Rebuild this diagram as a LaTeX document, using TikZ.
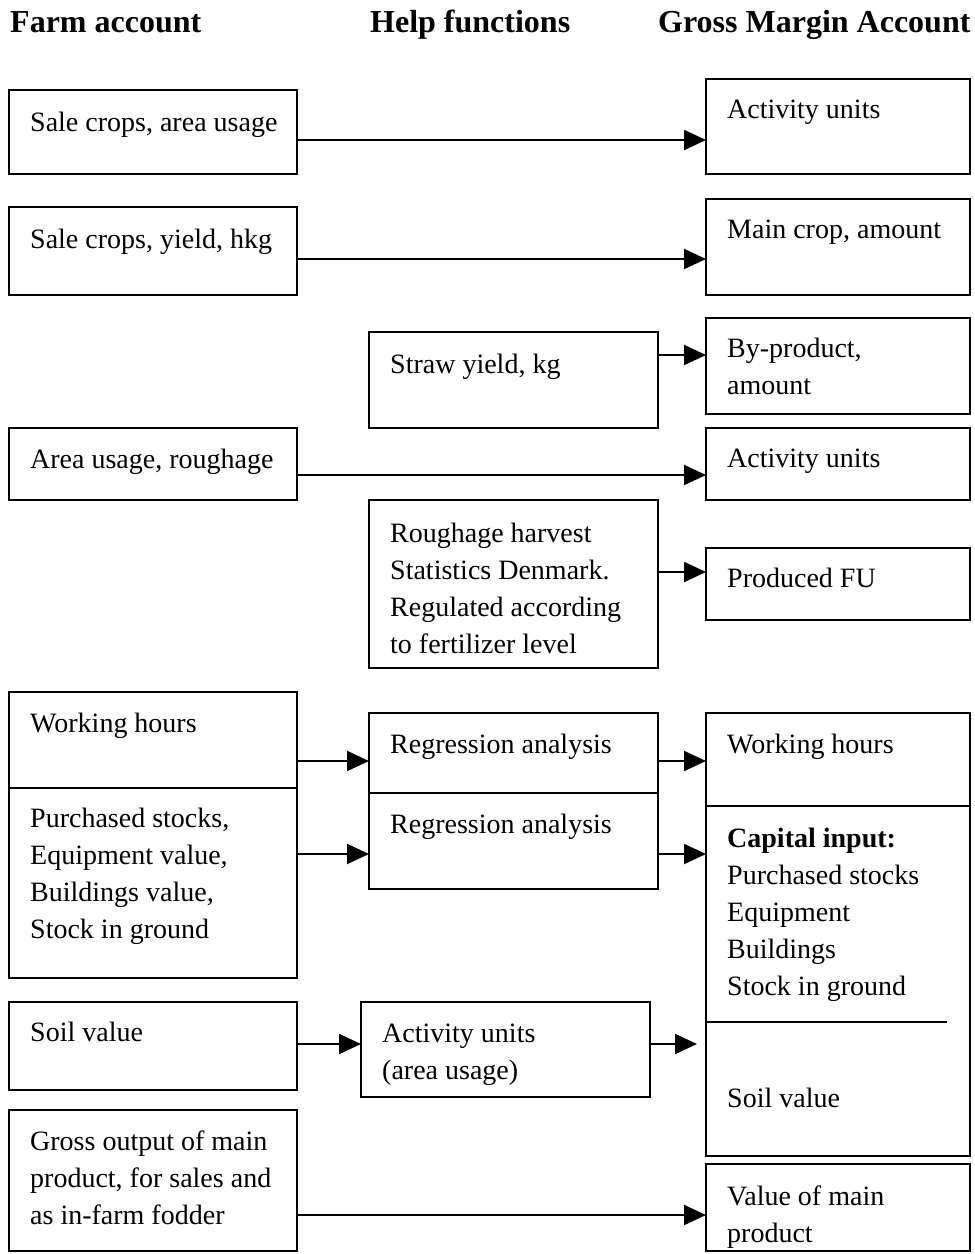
\documentclass[tikz,border=0pt]{standalone}
\usepackage{fontspec}
\setmainfont{Liberation Serif}
\usetikzlibrary{arrows.meta}

% left-aligned stack of lines whose baseline is that of the first line
\newcommand{\stk}[1]{\begin{tabular}[t]{@{}l@{}}#1\end{tabular}}

\begin{document}
\begin{tikzpicture}[x=1pt, y=-1pt,
  box/.style={draw, line width=2.2pt, rectangle, inner sep=0pt, outer sep=0pt, anchor=north west},
  txt/.style={anchor=base west, inner sep=0pt, font=\fontsize{28}{37}\selectfont},
  hdr/.style={anchor=base west, inner sep=0pt, font=\fontsize{32}{38}\selectfont\bfseries},
  arr/.style={line width=2pt, -{Triangle[length=22pt, width=20pt]}}]

\useasboundingbox (0,0) rectangle (975,1254);

% column headings
\node[hdr] (hfarm) at (10,32) {Farm account};
\node[hdr] (hhelp) at (370,32) {Help functions};
\node[hdr] (hgross) at (658,32) {Gross Margin Account};

% farm account column
\node[box, minimum width=288pt, minimum height=84pt] (a1) at (9,90) {};
\node[box, minimum width=288pt, minimum height=88pt] (a2) at (9,207) {};
\node[box, minimum width=288pt, minimum height=72pt] (a3) at (9,428) {};
\node[box, minimum width=288pt, minimum height=96pt] (a4) at (9,692) {};
\node[box, minimum width=288pt, minimum height=190pt] (a5) at (9,788) {};
\node[box, minimum width=288pt, minimum height=88pt] (a6) at (9,1002) {};
\node[box, minimum width=288pt, minimum height=141pt] (a7) at (9,1110) {};

\node[txt] (ta1) at (30,131) {Sale crops, area usage};
\node[txt] (ta2) at (30,248) {Sale crops, yield, hkg};
\node[txt] (ta3) at (30,468) {Area usage, roughage};
\node[txt] (ta4) at (30,732) {Working hours};
\node[txt] (ta5) at (30,827) {\stk{Purchased stocks,\\Equipment value,\\Buildings value,\\Stock in ground}};
\node[txt] (ta6) at (30,1041) {Soil value};
\node[txt] (ta7) at (30,1150) {\stk{Gross output of main\\product, for sales and\\as in-farm fodder}};

% help functions column
\node[box, minimum width=289pt, minimum height=96pt] (c1) at (369,332) {};
\node[box, minimum width=289pt, minimum height=168pt] (c2) at (369,500) {};
\node[box, minimum width=289pt, minimum height=80pt] (c3) at (369,713) {};
\node[box, minimum width=289pt, minimum height=96pt] (c4) at (369,793) {};
\node[box, minimum width=289pt, minimum height=95pt] (c5) at (361,1002) {};

\node[txt] (tc1) at (390,373) {Straw yield, kg};
\node[txt] (tc2) at (390,542) {\stk{Roughage harvest\\Statistics Denmark.\\Regulated according\\to fertilizer level}};
\node[txt] (tc3) at (390,753) {Regression analysis};
\node[txt] (tc4) at (390,833) {Regression analysis};
\node[txt] (tc5) at (382,1042) {\stk{Activity units\\(area usage)}};

% gross margin account column
\node[box, minimum width=264pt, minimum height=95pt] (b1) at (706,79) {};
\node[box, minimum width=264pt, minimum height=96pt] (b2) at (706,199) {};
\node[box, minimum width=264pt, minimum height=96pt] (b3) at (706,318) {};
\node[box, minimum width=264pt, minimum height=72pt] (b4) at (706,428) {};
\node[box, minimum width=264pt, minimum height=72pt] (b5) at (706,548) {};
\node[box, minimum width=264pt, minimum height=93pt] (b6) at (706,713) {};
\node[box, minimum width=264pt, minimum height=350pt] (b7) at (706,806) {};
\node[box, minimum width=264pt, minimum height=87pt] (b8) at (706,1164) {};

\node[txt] (tb1) at (727,118) {Activity units};
\node[txt] (tb2) at (727,238) {Main crop, amount};
\node[txt] (tb3) at (727,357) {\stk{By-product,\\amount}};
\node[txt] (tb4) at (727,467) {Activity units};
\node[txt] (tb5) at (727,587) {Produced FU};
\node[txt] (tb6) at (727,753) {Working hours};
\node[txt] (tb7) at (727,847) {\stk{\textbf{Capital input:}\\Purchased stocks\\Equipment\\Buildings\\Stock in ground}};
\node[txt] (tb7s) at (727,1107) {Soil value};
\node[txt] (tb8) at (727,1205) {\stk{Value of main\\product}};

% divider inside the capital input box
\coordinate (dv) at (947,1022);
\draw[line width=2pt] (b7.west |- dv) -- (dv);

% connector heights
\coordinate (r1) at (0,140);
\coordinate (r2) at (0,259);
\coordinate (r3) at (0,355);
\coordinate (r4) at (0,475);
\coordinate (r5) at (0,572);
\coordinate (r6) at (0,761);
\coordinate (r7) at (0,854);
\coordinate (r8) at (0,1044);
\coordinate (r9) at (0,1215);

% connectors
\draw[arr] (a1.east |- r1) -- (b1.west |- r1);
\draw[arr] (a2.east |- r2) -- (b2.west |- r2);
\draw[arr] (c1.east |- r3) -- (b3.west |- r3);
\draw[arr] (a3.east |- r4) -- (b4.west |- r4);
\draw[arr] (c2.east |- r5) -- (b5.west |- r5);
\draw[arr] (a4.east |- r6) -- (c3.west |- r6);
\draw[arr] (c3.east |- r6) -- (b6.west |- r6);
\draw[arr] (a5.east |- r7) -- (c4.west |- r7);
\draw[arr] (c4.east |- r7) -- (b7.west |- r7);
\draw[arr] (a6.east |- r8) -- (c5.west |- r8);
\draw[arr, shorten >=9pt] (c5.east |- r8) -- (b7.west |- r8);
\draw[arr] (a7.east |- r9) -- (b8.west |- r9);

\end{tikzpicture}
\end{document}
